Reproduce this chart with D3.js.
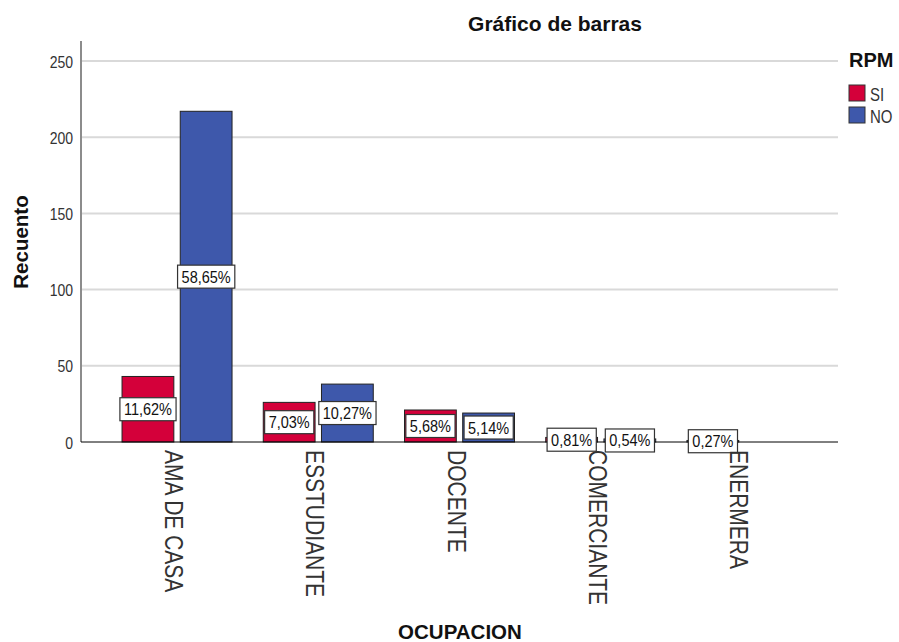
<!DOCTYPE html>
<html>
<head>
<meta charset="utf-8">
<script src="https://cdn.jsdelivr.net/npm/d3@7"></script>
<style>
  body { margin: 0; background: #fff; }
  text { font-family: "Liberation Sans", Arial, sans-serif; }
</style>
</head>
<body>
<div id="chart"></div>
<script>
// data (counts, N = 370)
var categories = ["AMA DE CASA", "ESSTUDIANTE", "DOCENTE", "COMERCIANTE", "ENERMERA"];
var groups = ["SI", "NO"];
var siValues = [43, 26, 21, 3, 0];
var noValues = [217, 38, 19, 2, 1];
var siLabels = ["11,62%", "7,03%", "5,68%", "0,81%", ""];
var noLabels = ["58,65%", "10,27%", "5,14%", "0,54%", "0,27%"];
var yTicks = [0, 50, 100, 150, 200, 250];

var width = 899, height = 642;
var margin = { top: 61, right: 61, bottom: 200, left: 81 };
var colors = { SI: "#d4003a", NO: "#3e58ab" };

var svg = d3.select("#chart").append("svg")
    .attr("width", width)
    .attr("height", height);

var x0 = d3.scalePoint()
    .domain(categories)
    .range([margin.left, width - margin.right])
    .padding(0.68);

// slots inside a cluster (bars that exist are packed from the left)
var x1 = d3.scaleBand()
    .domain([0, 1])
    .range([-55, 55])
    .paddingInner(0.11);

var y = d3.scaleLinear()
    .domain([0, 250])
    .range([height - margin.bottom, margin.top]);

// gridlines
svg.append("g")
    .selectAll("line")
    .data(yTicks.filter(d => d > 0))
    .enter().append("line")
    .attr("x1", margin.left)
    .attr("x2", width - margin.right)
    .attr("y1", d => y(d))
    .attr("y2", d => y(d))
    .attr("stroke", "#d9d9d9")
    .attr("stroke-width", 2);

// y axis
var yAxis = svg.append("g")
    .attr("transform", `translate(${margin.left},0)`)
    .call(d3.axisLeft(y).tickValues(yTicks).tickSize(0).tickPadding(8));
yAxis.select(".domain").remove();
yAxis.selectAll("text")
    .attr("dy", null)
    .attr("x", null)
    .attr("transform", "translate(-8,0) scale(1,1.2) translate(0,5)")
    .style("font-size", "14px")
    .attr("fill", "#333");
svg.append("line")
    .attr("x1", margin.left).attr("x2", margin.left)
    .attr("y1", 41).attr("y2", y(0))
    .attr("stroke", "#8c8c8c")
    .attr("stroke-width", 2);

// table of bars
var rows = [];
categories.forEach(function(c, i) {
    var slot = 0;
    if (siValues[i] > 0) rows.push({ cat: c, grp: "SI", slot: slot++, value: siValues[i], label: siLabels[i] });
    if (noValues[i] > 0) rows.push({ cat: c, grp: "NO", slot: slot++, value: noValues[i], label: noLabels[i] });
});

svg.append("g")
    .selectAll("rect")
    .data(rows)
    .enter().append("rect")
    .attr("x", d => x0(d.cat) + x1(d.slot))
    .attr("y", d => y(d.value))
    .attr("width", x1.bandwidth())
    .attr("height", d => y(0) - y(d.value))
    .attr("fill", d => colors[d.grp])
    .attr("stroke", "#222")
    .attr("stroke-width", 1);

// baseline
svg.append("line")
    .attr("x1", margin.left).attr("x2", width - margin.right)
    .attr("y1", y(0)).attr("y2", y(0))
    .attr("stroke", "#000")
    .attr("stroke-width", 1);

// percentage labels
var lab = svg.append("g")
    .selectAll("g")
    .data(rows)
    .enter().append("g")
    .attr("transform", d => `translate(${x0(d.cat) + x1(d.slot) + x1.bandwidth() / 2},${(y(d.value) + y(0)) / 2})`);

lab.append("text")
    .attr("text-anchor", "middle")
    .attr("transform", "scale(1,1.15)")
    .attr("dy", "0.36em")
    .style("font-size", "14.5px")
    .attr("fill", "#111")
    .text(d => d.label);

lab.insert("rect", "text")
    .each(function() {
        var bb = this.parentNode.querySelector("text").getBBox();
        d3.select(this)
            .attr("x", bb.x - 4)
            .attr("y", -11.5)
            .attr("width", bb.width + 8)
            .attr("height", 23);
    })
    .attr("fill", "#fff")
    .attr("stroke", "#333")
    .attr("stroke-width", 1.2);

// category labels
svg.append("g")
    .selectAll("text")
    .data(categories)
    .enter().append("text")
    .attr("transform", d => `translate(${x0(d) - 12},450) rotate(90) scale(1,1.2)`)
    .attr("text-anchor", "start")
    .style("font-size", "21px")
    .attr("fill", "#333")
    .text(d => d);

// titles
svg.append("text")
    .attr("x", 555).attr("y", 31)
    .attr("text-anchor", "middle")
    .style("font-size", "21px")
    .style("font-weight", "bold")
    .attr("fill", "#111")
    .text("Gráfico de barras");

svg.append("text")
    .attr("transform", "translate(28,242) rotate(-90)")
    .attr("text-anchor", "middle")
    .style("font-size", "20.5px")
    .style("font-weight", "bold")
    .attr("fill", "#111")
    .text("Recuento");

svg.append("text")
    .attr("x", 460).attr("y", 639)
    .attr("text-anchor", "middle")
    .style("font-size", "20.5px")
    .style("font-weight", "bold")
    .attr("fill", "#111")
    .text("OCUPACION");

// legend
var legend = svg.append("g").attr("transform", "translate(849,0)");
legend.append("text")
    .attr("x", 0).attr("y", 67)
    .style("font-size", "20px")
    .style("font-weight", "bold")
    .attr("fill", "#111")
    .text("RPM");

var items = legend.selectAll("g.item")
    .data(groups)
    .enter().append("g")
    .attr("class", "item")
    .attr("transform", (d, i) => `translate(0,${85 + i * 22})`);
items.append("rect")
    .attr("width", 16).attr("height", 16)
    .attr("fill", d => colors[d])
    .attr("stroke", "#333")
    .attr("stroke-width", 1);
items.append("text")
    .attr("transform", "translate(21,16) scale(1,1.25)")
    .style("font-size", "15px")
    .attr("fill", "#333")
    .text(d => d);
</script>
</body>
</html>
